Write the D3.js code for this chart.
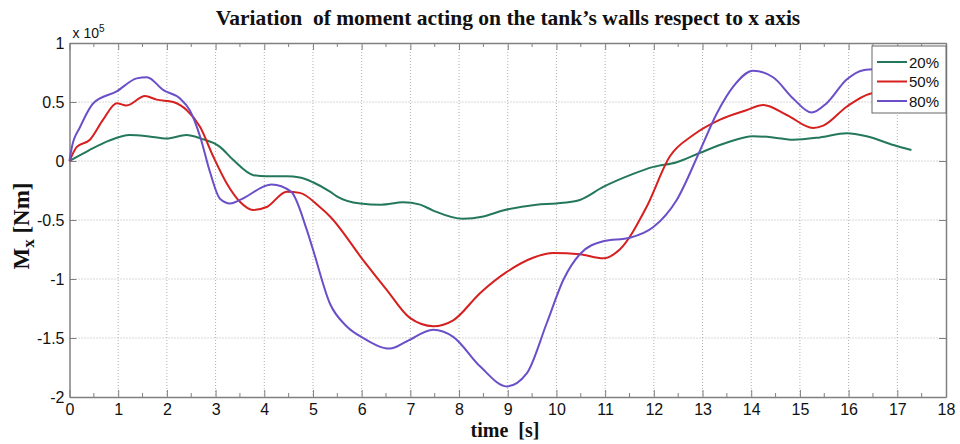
<!DOCTYPE html>
<html>
<head>
<meta charset="utf-8">
<script src="https://cdn.jsdelivr.net/npm/d3@7"></script>
<style>
  body { margin: 0; background: #fff; }
  svg { display: block; }
  .tick-label { font-family: "Liberation Sans Narrow", "Liberation Sans", Arial, sans-serif; font-size: 16px; fill: #111; }
  .serif-bold { font-family: "Liberation Serif", "Times New Roman", serif; font-weight: bold; fill: #111; }
</style>
</head>
<body>
<svg id="chart"></svg>
<script>
// Chart size and plot box
const width = 960, height = 444;
const margin = { left: 69.5, right: 14, top: 43, bottom: 47 };

// Moment values are in units of 1e5 Nm (axis shows "x 10^5")
const time20 = [0, 0.4, 0.8, 1.24, 1.6, 2.0, 2.4, 2.7, 3.09, 3.36, 3.78, 4.05, 4.46, 4.73, 5.0, 5.35, 5.49, 5.97, 6.4, 6.85, 7.2, 7.47, 8.08, 8.5, 8.9, 9.59, 10.0, 10.48, 10.96, 11.51, 11.99, 12.47, 12.95, 13.49, 14.04, 14.45, 14.86, 15.41, 15.96, 16.37, 16.92, 17.29];
const m20    = [0, 0.09, 0.17, 0.22, 0.21, 0.19, 0.22, 0.19, 0.12, 0.01, -0.12, -0.13, -0.13, -0.14, -0.18, -0.26, -0.30, -0.36, -0.37, -0.35, -0.37, -0.42, -0.49, -0.47, -0.42, -0.37, -0.36, -0.33, -0.22, -0.12, -0.05, -0.01, 0.07, 0.155, 0.21, 0.2, 0.18, 0.2, 0.235, 0.21, 0.135, 0.093];

const time50 = [0, 0.15, 0.42, 0.69, 0.97, 1.17, 1.55, 1.79, 2.13, 2.41, 2.68, 2.95, 3.23, 3.5, 3.77, 4.05, 4.46, 4.73, 5.14, 5.35, 6.03, 6.51, 6.99, 7.47, 7.88, 8.43, 8.98, 9.52, 9.93, 10.48, 10.96, 11.3, 11.85, 12.33, 12.81, 13.36, 13.9, 14.25, 14.73, 15.27, 15.48, 15.96, 16.44, 16.6];
const m50    = [0, 0.12, 0.18, 0.35, 0.49, 0.47, 0.55, 0.52, 0.5, 0.43, 0.29, 0.04, -0.19, -0.345, -0.415, -0.39, -0.26, -0.27, -0.39, -0.47, -0.84, -1.09, -1.33, -1.40, -1.35, -1.12, -0.94, -0.82, -0.78, -0.79, -0.825, -0.75, -0.39, 0.04, 0.22, 0.35, 0.43, 0.475, 0.39, 0.28, 0.3, 0.46, 0.57, 0.58];

const time80 = [0, 0.05, 0.22, 0.49, 0.97, 1.38, 1.59, 1.93, 2.27, 2.47, 2.68, 2.89, 3.09, 3.3, 3.5, 4.15, 4.55, 4.87, 5.0, 5.35, 5.69, 6.03, 6.58, 6.92, 7.47, 7.88, 8.43, 8.98, 9.39, 9.8, 10.15, 10.48, 10.96, 11.51, 11.99, 12.47, 12.95, 13.29, 13.63, 14.04, 14.45, 14.86, 15.24, 15.55, 15.96, 16.3, 16.6];
const m80    = [0, 0.12, 0.29, 0.49, 0.59, 0.70, 0.71, 0.6, 0.53, 0.43, 0.21, -0.10, -0.32, -0.36, -0.33, -0.2, -0.26, -0.58, -0.75, -1.21, -1.40, -1.50, -1.59, -1.53, -1.43, -1.49, -1.74, -1.91, -1.80, -1.375, -1.0, -0.79, -0.68, -0.65, -0.56, -0.33, 0.09, 0.40, 0.63, 0.765, 0.71, 0.53, 0.41, 0.49, 0.69, 0.77, 0.78];

const seriesNames = ["20%", "50%", "80%"];
const seriesColors = ["#24785a", "#d61f1f", "#6a4fc9"];
const xTicks = d3.range(0, 19, 1);
const yTicks = [-2, -1.5, -1, -0.5, 0, 0.5, 1];

const svg = d3.select("#chart").attr("width", width).attr("height", height);

const x = d3.scaleLinear().domain([0, 18]).range([margin.left, width - margin.right]);
const y = d3.scaleLinear().domain([-2, 1]).range([height - margin.bottom, margin.top]);

// Dotted grid
svg.append("g")
  .selectAll("line")
  .data(xTicks.slice(1, -1))
  .join("line")
  .attr("x1", d => x(d)).attr("x2", d => x(d))
  .attr("y1", y(1)).attr("y2", y(-2))
  .attr("stroke", "#b0b0b0").attr("stroke-dasharray", "1,2");
svg.append("g")
  .selectAll("line")
  .data(yTicks.slice(1, -1))
  .join("line")
  .attr("x1", x(0)).attr("x2", x(18))
  .attr("y1", d => y(d)).attr("y2", d => y(d))
  .attr("stroke", "#b0b0b0").attr("stroke-dasharray", "1,2");

// Axes with inward ticks (MATLAB style)
const axisColor = "#808080";
function styleAxis(g) {
  g.selectAll(".domain").attr("stroke", axisColor).attr("stroke-width", 1.5);
  g.selectAll(".tick line").attr("stroke", axisColor);
  g.selectAll("text").attr("class", "tick-label");
}
const minorX = d3.range(0.5, 18, 1);

svg.append("g")
  .attr("transform", `translate(0,${y(-2)})`)
  .call(d3.axisBottom(x).tickValues(xTicks).tickSizeInner(-7).tickSizeOuter(0).tickPadding(7).tickFormat(d => String(d)))
  .call(styleAxis);
svg.append("g")
  .attr("transform", `translate(0,${y(1)})`)
  .call(d3.axisTop(x).tickValues(xTicks).tickSizeInner(-7).tickSizeOuter(0).tickFormat(""))
  .call(styleAxis);
// plain hyphen for negatives, as in the original figure
svg.append("g")
  .attr("transform", `translate(${x(0)},0)`)
  .call(d3.axisLeft(y).tickValues(yTicks).tickSizeInner(-7).tickSizeOuter(0).tickPadding(5).tickFormat(d => String(d)))
  .call(styleAxis);
svg.append("g")
  .attr("transform", `translate(${x(18)},0)`)
  .call(d3.axisRight(y).tickValues(yTicks).tickSizeInner(-7).tickSizeOuter(0).tickFormat(""))
  .call(styleAxis);

// Minor ticks on top and bottom
[[y(-2), -4], [y(1), 4]].forEach(([yy, len]) => {
  svg.append("g").selectAll("line")
    .data(minorX)
    .join("line")
    .attr("x1", d => x(d)).attr("x2", d => x(d))
    .attr("y1", yy).attr("y2", yy + len)
    .attr("stroke", axisColor);
});

// Exponent label
const expLabel = svg.append("text")
  .attr("x", x(0) + 3).attr("y", y(1) - 5)
  .attr("class", "tick-label")
  .style("font-size", "14px")
  .text("x 10");
expLabel.append("tspan").attr("dy", -6).style("font-size", "10px").text("5");

// Lines
const line = d3.line()
  .x(d => x(d[0]))
  .y(d => y(d[1]))
  .curve(d3.curveMonotoneX);

const series = [
  { name: seriesNames[0], color: seriesColors[0], pts: d3.zip(time20, m20) },
  { name: seriesNames[1], color: seriesColors[1], pts: d3.zip(time50, m50) },
  { name: seriesNames[2], color: seriesColors[2], pts: d3.zip(time80, m80) }
];

series.forEach(s => {
  svg.append("path")
    .datum(s.pts)
    .attr("d", line)
    .attr("fill", "none")
    .attr("stroke", s.color)
    .attr("stroke-width", 2)
    .attr("stroke-linejoin", "round");
});

// Legend
const legend = svg.append("g").attr("transform", "translate(872,46)");
legend.append("rect")
  .attr("width", 74).attr("height", 67)
  .attr("fill", "#fff").attr("stroke", "#666").attr("stroke-width", 1);
series.forEach((s, i) => {
  const ly = 16 + i * 19.5;
  legend.append("line")
    .attr("x1", 5).attr("x2", 35).attr("y1", ly).attr("y2", ly)
    .attr("stroke", s.color).attr("stroke-width", 2);
  legend.append("text")
    .attr("x", 37).attr("y", ly + 5.5)
    .attr("class", "tick-label")
    .style("font-size", "15px")
    .text(s.name);
});

// Title and axis labels
svg.append("text")
  .attr("class", "serif-bold")
  .attr("x", 508).attr("y", 25)
  .attr("text-anchor", "middle")
  .style("font-size", "21.5px")
  .attr("xml:space", "preserve")
  .text("Variation  of moment acting on the tank’s walls respect to x axis");

svg.append("text")
  .attr("class", "serif-bold")
  .attr("x", 505).attr("y", 437)
  .attr("text-anchor", "middle")
  .style("font-size", "20px")
  .attr("xml:space", "preserve")
  .text("time  [s]");

const yLabel = svg.append("text")
  .attr("class", "serif-bold")
  .attr("transform", "translate(29,226) rotate(-90)")
  .attr("text-anchor", "middle")
  .style("font-size", "23px")
  .text("M");
yLabel.append("tspan").attr("dy", 5).style("font-size", "17px").text("x");
yLabel.append("tspan").attr("dy", -5).text(" [Nm]");
</script>
</body>
</html>
